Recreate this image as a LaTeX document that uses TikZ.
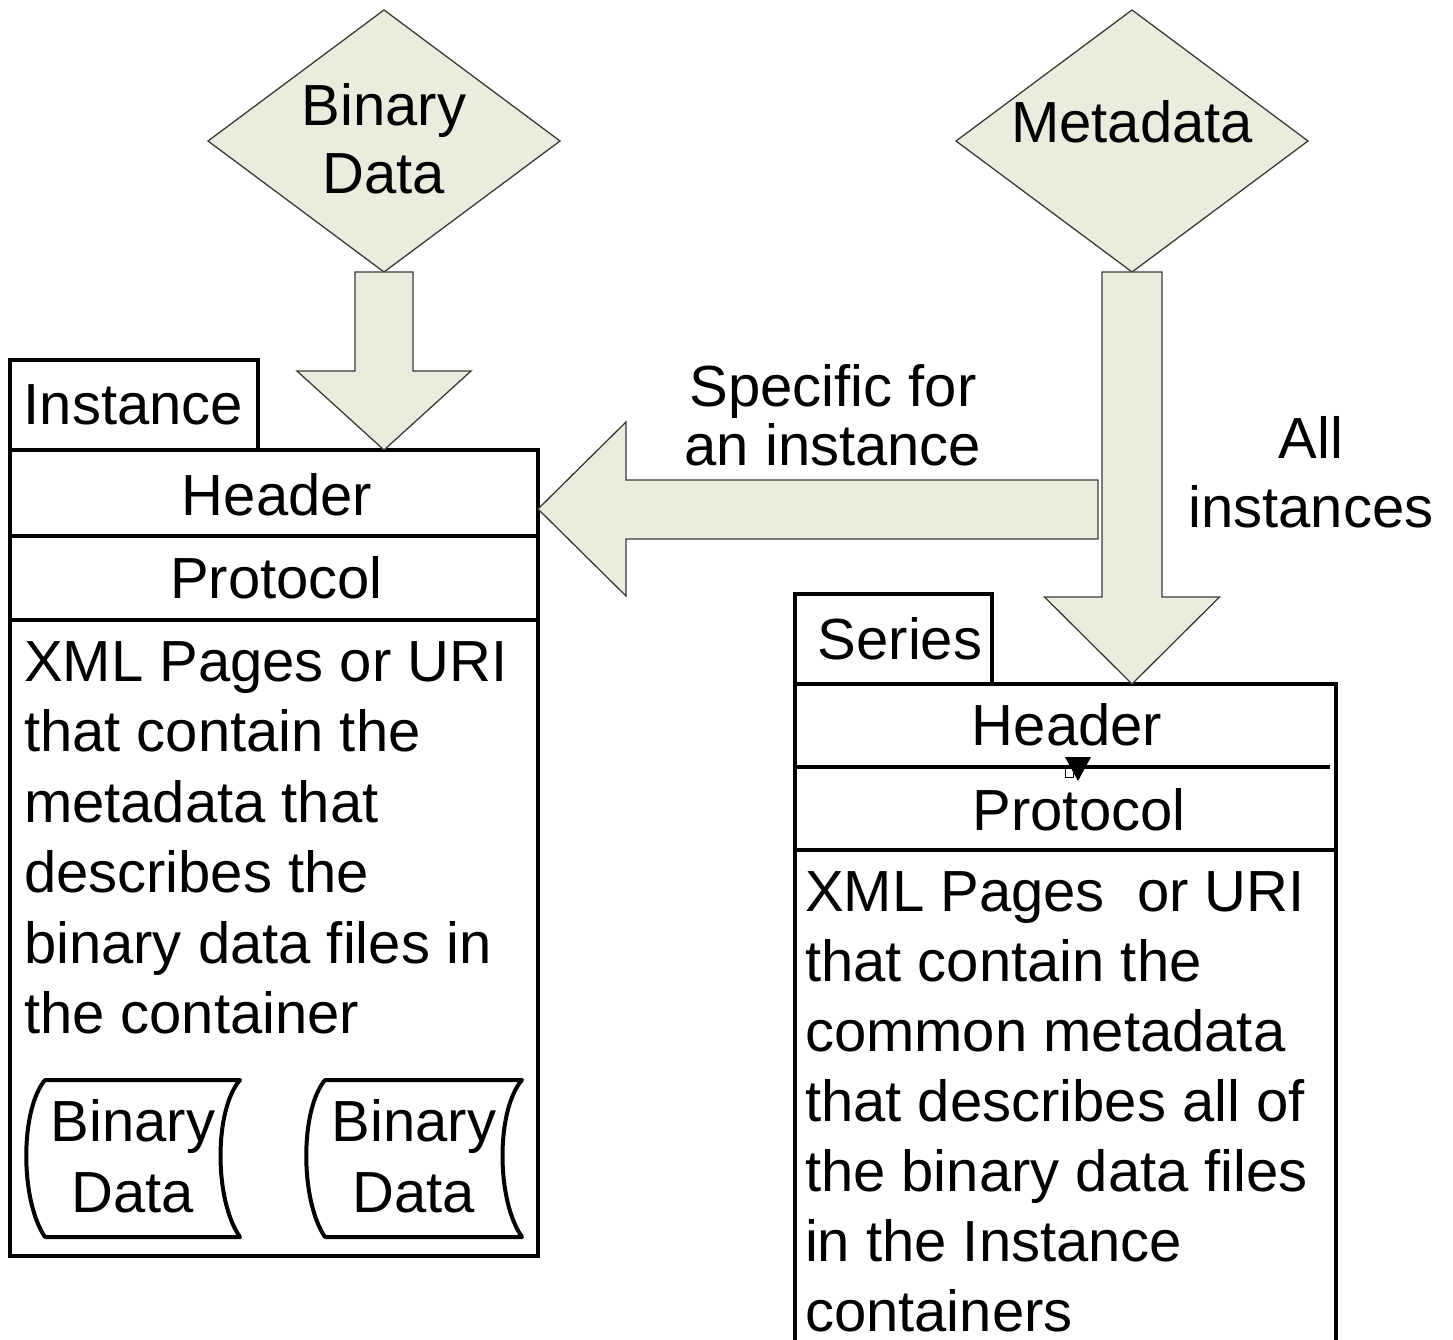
\documentclass[tikz,border=0pt]{standalone}
\usepackage{fontspec}
\setmainfont{Liberation Sans}
\usetikzlibrary{shapes.geometric,calc}
\definecolor{blockfill}{HTML}{EAEDDE}
\definecolor{blockline}{HTML}{3A3A3A}
\tikzset{
  blk/.style={fill=blockfill, draw=blockline, line width=1.3pt, line join=miter},
  dia/.style={diamond, fill=blockfill, draw=blockline, line width=1.3pt,
              inner sep=0pt, outer sep=0pt, minimum width=352pt, minimum height=262pt},
  frame/.style={draw, line width=4pt, inner sep=0pt, outer sep=0pt},
  sep/.style={line width=4pt},
  lbl/.style={inner sep=0pt, outer sep=0pt, font=\fontsize{58}{70.5}\selectfont},
  store/.style={draw, line width=4pt, line join=round},
}
\begin{document}
\begin{tikzpicture}[x=1pt,y=-1pt]
\useasboundingbox (0,0) rectangle (1453,1340);
\clip (0,0) rectangle (1453,1340);

% source diamonds (multi-line labels are placed by the baseline of their last line)
\node[dia] (bd) at (384,141) {};
\node[dia] (md) at (1132,141) {};
\node[lbl, anchor=base, align=center, font=\fontsize{58}{68}\selectfont] (bdtext) at (384,194) {Binary\\Data};
\node[lbl, anchor=base] (mdtext) at (1132,143) {Metadata};

% Instance container
\node[frame, minimum width=248pt, minimum height=90pt] (itab) at (134,405) {};
\node[frame, minimum width=528pt, minimum height=806pt] (ibox) at (274,853) {};
\draw[sep] (ibox.west |- 0,536) -- (ibox.east |- 0,536);
\draw[sep] (ibox.west |- 0,620) -- (ibox.east |- 0,620);
\node[lbl, anchor=base] (itabtext) at (133.5,424) {Instance};
\node[lbl, anchor=base] (ihead) at (277,515) {Header};
\node[lbl, anchor=base] (iprot) at (276.5,598) {Protocol};
\node[lbl, anchor=base west, align=left] (ibody) at (24,1033.5)
  {XML Pages or URI\\that contain the\\metadata that\\describes the\\binary data files in\\the container};

% stored binary data files
\draw[store] (45,1080) -- (240,1080) .. controls (214,1110) and (214,1200) .. (240,1237)
  -- (45,1237) .. controls (20,1200) and (20,1110) .. (45,1080) -- cycle;
\draw[store] (325,1080) -- (522,1080) .. controls (496,1110) and (496,1200) .. (522,1237)
  -- (325,1237) .. controls (300,1200) and (300,1110) .. (325,1080) -- cycle;
\node[lbl, anchor=base, align=center] (bin1) at (133,1212) {Binary\\Data};
\node[lbl, anchor=base, align=center] (bin2) at (414,1212) {Binary\\Data};

% Series container
\node[frame, minimum width=197pt, minimum height=90pt] (stab) at (893.5,639) {};
\node[frame, minimum width=541pt, minimum height=716pt] (sbox) at (1065.5,1042) {};
\draw[sep] (sbox.west |- 0,767) -- (1330,767);
\draw[sep] (sbox.west |- 0,850) -- (sbox.east |- 0,850);
\node[lbl, anchor=base] (stabtext) at (900,659) {Series};
\node[lbl, anchor=base] (shead) at (1067,745) {Header};
\node[lbl, anchor=base] (sprot) at (1079,830) {Protocol};
\node[lbl, anchor=base west, align=left, font=\fontsize{58}{70}\selectfont] (sbody) at (805,1331)
  {XML Pages\ \ or URI\\that contain the\\common metadata\\that describes all of\\the binary data files\\in the Instance\\containers};

% small marker on the Series header rule
\draw[fill=white, line width=1pt] (1065,768) rectangle (1073,777);
\fill (1065,757) -- (1091,757) -- (1078,781) -- cycle;

% block arrows
\coordinate (t1) at (bd.south |- ibox.north);
\draw[blk] ($(bd.south)+(-29,0)$) -- ($(bd.south)+(29,0)$) -- ($(t1)+(29,-79)$)
  -- ($(t1)+(87,-79)$) -- (t1) -- ($(t1)+(-87,-79)$) -- ($(t1)+(-29,-79)$) -- cycle;

\coordinate (t2) at (md.south |- sbox.north);
\draw[blk] ($(md.south)+(-30,0)$) -- ($(md.south)+(30,0)$) -- ($(t2)+(30,-87)$)
  -- ($(t2)+(87.5,-87)$) -- (t2) -- ($(t2)+(-87.5,-87)$) -- ($(t2)+(-30,-87)$) -- cycle;

\coordinate (t3) at ($(ibox.north east)+(0,59)$);
\coordinate (e3x) at ($(md.south)+(-34,0)$);
\coordinate (e3) at (e3x |- t3);
\draw[blk] (t3) -- ($(t3)+(88,-87)$) -- ($(t3)+(88,-29)$) -- ($(e3)+(0,-29)$)
  -- ($(e3)+(0,30)$) -- ($(t3)+(88,30)$) -- ($(t3)+(88,87)$) -- cycle;

% arrow captions
\node[lbl, anchor=base, align=center, font=\fontsize{58}{59}\selectfont] (spec) at (833,465)
  {Specific for\\an instance};
\node[lbl, anchor=base, align=center, font=\fontsize{58}{69}\selectfont] (allinst) at (1311,527)
  {All\\instances};
\end{tikzpicture}
\end{document}
